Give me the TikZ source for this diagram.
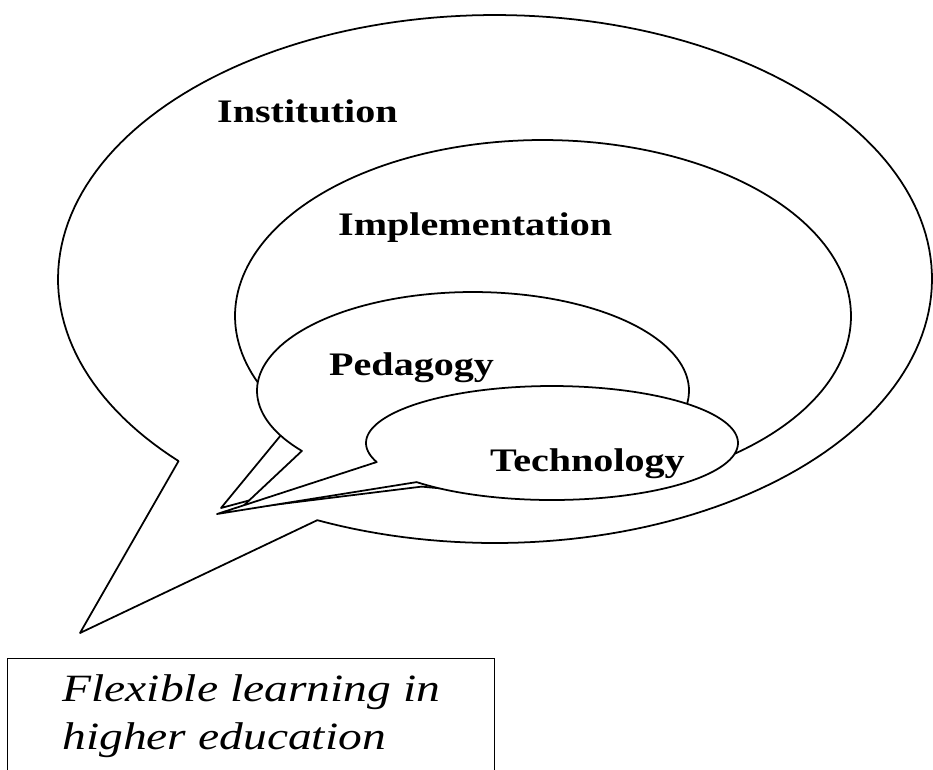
\documentclass[tikz,border=0pt]{standalone}
\usepackage{fontspec}
\setmainfont{Liberation Serif}
\newfontfamily\bubblefont[FakeStretch=1.22]{Liberation Serif}
\newfontfamily\boxfont[FakeStretch=1.23]{Liberation Serif}

\begin{document}
\begin{tikzpicture}[x=0.02cm,y=-0.02cm,
  bubble/.style={draw,fill=white,line width=1pt,line join=round},
  lbl/.style={anchor=base west,font=\bubblefont\bfseries\fontsize{18.7}{20}\selectfont},
  capbox/.style={draw,line width=0.8pt,anchor=north west,minimum width=9.74cm,
    minimum height=2.3cm,align=left,font=\boxfont\itshape\fontsize{22}{27.8}\selectfont}]
  \useasboundingbox (0,0) rectangle (933,769);
  \clip (0,0) rectangle (933,769);
  % tips of the callouts
  \coordinate (insttip) at (80,633);
  \coordinate (impltip) at (221,508);
  \coordinate (pedtip) at (240,509);
  \coordinate (techtip) at (217,514);
  % outer callout
  \draw[bubble] plot[samples=200,domain=136.4:474,variable=\t]
    ({495+437*cos(\t)},{279+264*sin(\t)}) -- (insttip) -- cycle;
  % middle callout, its tail mostly hidden
  \draw[bubble] plot[samples=200,domain=144:482,variable=\t]
    ({543+308*cos(\t)},{316+176*sin(\t)}) -- (impltip) -- cycle;
  % inner callouts
  \draw[bubble] plot[samples=150,domain=142.4:463.7,variable=\t]
    ({473+216*cos(\t)},{390.7+98.7*sin(\t)}) -- (pedtip) -- cycle;
  \draw[bubble] plot[samples=150,domain=160.5:496.7,variable=\t]
    ({552+186*cos(\t)},{443+57*sin(\t)}) -- (techtip) -- cycle;
  % labels
  \node[lbl] (institution) at (211,122) {Institution};
  \node[lbl] (implementation) at (332,235) {Implementation};
  \node[lbl] (pedagogy) at (323,375) {Pedagogy};
  \node[lbl] (technology) at (484,471) {Technology};
  % caption box
  \node[capbox] (flexible) at (7,658) {Flexible learning in\\higher education};
\end{tikzpicture}
\end{document}
